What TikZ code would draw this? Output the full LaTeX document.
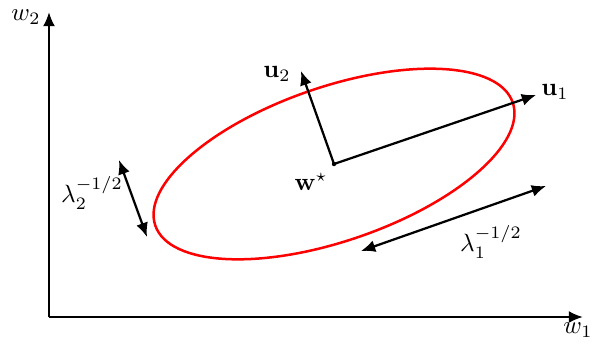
\documentclass[tikz,border=0pt]{standalone}
\usepackage{amsmath}
\usetikzlibrary{arrows.meta}
\tikzset{
axis/.style={-{Latex[length=2mm,width=1.7mm]},line width=0.9pt},
vec/.style={-{Latex[length=2mm,width=1.7mm]},line width=0.9pt},
span/.style={{Latex[length=2mm,width=1.7mm]}-{Latex[length=2mm,width=1.7mm]},line width=0.9pt},
level/.style={draw=red,line width=1pt},
lab/.style={inner sep=0pt}
}
\begin{document}
\begin{tikzpicture}[x=0.4pt,y=0.4pt]
\useasboundingbox (0,0) rectangle (600,343);
% axes
\coordinate (O) at (49,26);
\coordinate (xend) at (583,26);
\coordinate (yend) at (49,331);
\draw[axis](O)--(xend);\draw[axis](O)--(yend);
\node[lab](w1) at (578,13){$w_1$};
\node[lab](w2) at (26,326){$w_2$};
% contour and eigenvectors
\coordinate (c) at (334,179);
\draw[level,rotate around={19:(c)}](c) ellipse (189 and 77);
\fill (c) circle (2.2);
\coordinate (u1end) at (536,248);
\coordinate (u2end) at (301,272);
\draw[vec](c)--(u1end);\draw[vec](c)--(u2end);
\node[lab](u1) at (555,251){$\mathbf{u}_1$};
\node[lab](u2) at (277,269){$\mathbf{u}_2$};
\node[lab](wstar) at (311,161){$\mathbf{w}^{\star}$};
% widths
\coordinate (a2) at (119,183);\coordinate (b2) at (147,106);
\coordinate (a1) at (361,92);\coordinate (b1) at (546,157);
\draw[span](a2)--(b2);\draw[span](a1)--(b1);
\node[lab](l2) at (92,150){$\lambda_2^{-1/2}$};
\node[lab](l1) at (491,101){$\lambda_1^{-1/2}$};
\end{tikzpicture}
\end{document}
